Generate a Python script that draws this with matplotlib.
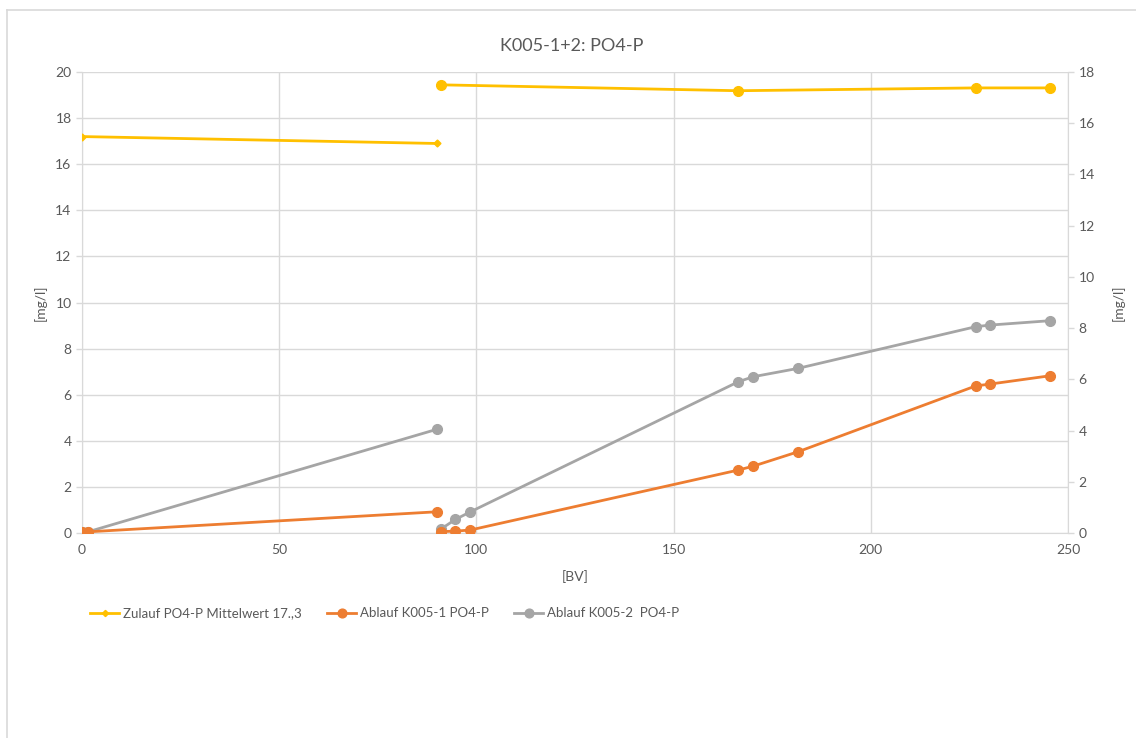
import matplotlib
matplotlib.use("Agg")
import matplotlib.pyplot as plt
from matplotlib.lines import Line2D

plt.rcParams['font.family'] = ['Lato', 'DejaVu Sans']

TEXT = '#595959'
GRID = '#d9d9d9'
YELLOW = '#ffc000'
ORANGE = '#ed7d31'
GRAY = '#a5a5a5'

# Zulauf (inflow) averages, first run and second run (second run on right axis)
zulauf_bv_1 = [0, 90]
zulauf_po4_1 = [17.2, 16.9]
zulauf_bv_2 = [91, 166.4, 226.6, 245.4]
zulauf_po4_2 = [17.5, 17.27, 17.38, 17.38]

# Ablauf (outflow) columns, split into two runs
ablauf_bv_1 = [0, 1.5, 90]
k1_po4_1 = [0.05, 0.05, 0.92]
k2_po4_1 = [0.05, 0.05, 4.5]

ablauf_bv_2 = [91, 94.7, 98.5, 166.4, 170.2, 181.5, 226.6, 230.2, 245.4]
k1_po4_2 = [0.06, 0.08, 0.13, 2.73, 2.9, 3.52, 6.38, 6.46, 6.82]
k2_po4_2 = [0.17, 0.59, 0.92, 6.56, 6.78, 7.14, 8.95, 9.02, 9.21]

fig = plt.figure(figsize=(11.36, 7.38), dpi=100)
ax = fig.add_axes([0.0722, 0.2778, 0.8679, 0.6246])
ax2 = ax.twinx()

ax.plot(zulauf_bv_1, zulauf_po4_1, color=YELLOW, lw=2, marker='D', ms=3.5,
        label='Zulauf PO4-P Mittelwert 17.,3', zorder=3)
ax2.plot(zulauf_bv_2, zulauf_po4_2, color=YELLOW, lw=2, marker='o', ms=7, zorder=3)

ax.plot(ablauf_bv_1, k1_po4_1, color=ORANGE, lw=2, marker='o', ms=7,
        label='Ablauf K005-1 PO4-P', zorder=4)
ax.plot(ablauf_bv_2, k1_po4_2, color=ORANGE, lw=2, marker='o', ms=7, zorder=4)
ax.plot(ablauf_bv_1, k2_po4_1, color=GRAY, lw=2, marker='o', ms=7,
        label='Ablauf K005-2  PO4-P', zorder=3)
ax.plot(ablauf_bv_2, k2_po4_2, color=GRAY, lw=2, marker='o', ms=7, zorder=3)

ax.set_xlim(0, 250)
ax.set_ylim(0, 20)
ax2.set_ylim(0, 18)
ax.set_xticks(range(0, 251, 50))
ax.set_yticks(range(0, 21, 2))
ax2.set_yticks(range(0, 19, 2))

ax.grid(True, color=GRID, lw=1)
ax.set_axisbelow(True)

for a in (ax, ax2):
    for s in a.spines.values():
        s.set_visible(False)
    a.tick_params(colors=TEXT, labelsize=10, length=4, width=1, color=GRID)
ax.spines['left'].set_visible(True)
ax.spines['bottom'].set_visible(True)
ax.spines['left'].set_color(GRID)
ax.spines['bottom'].set_color(GRID)
ax2.spines['right'].set_visible(True)
ax2.spines['right'].set_color(GRID)
ax.tick_params(axis='x', length=0, pad=8)

ax.set_xlabel('[BV]', color=TEXT, fontsize=10, labelpad=10)
ax.set_ylabel('[mg/l]', color=TEXT, fontsize=10, labelpad=6)
ax2.set_ylabel('[mg/l]', color=TEXT, fontsize=10, rotation=90, labelpad=12)

fig.suptitle('K005-1+2: PO4-P', x=0.503, y=0.948, color=TEXT, fontsize=13)

fig.legend(loc='center left', bbox_to_anchor=(0.069, 0.169), ncol=3,
           frameon=False, fontsize=9.5, labelcolor=TEXT, handlelength=2.2,
           handletextpad=0.3, columnspacing=1.9, markerscale=0.9)

# chart frame edges
fig.add_artist(Line2D([0.0065, 1.0], [0.9858, 0.9858], color=GRID, lw=1.2))
fig.add_artist(Line2D([0.0065, 0.0065], [0.0, 0.9858], color=GRID, lw=1.2))

fig.savefig('out.png', dpi=100, facecolor='white')
